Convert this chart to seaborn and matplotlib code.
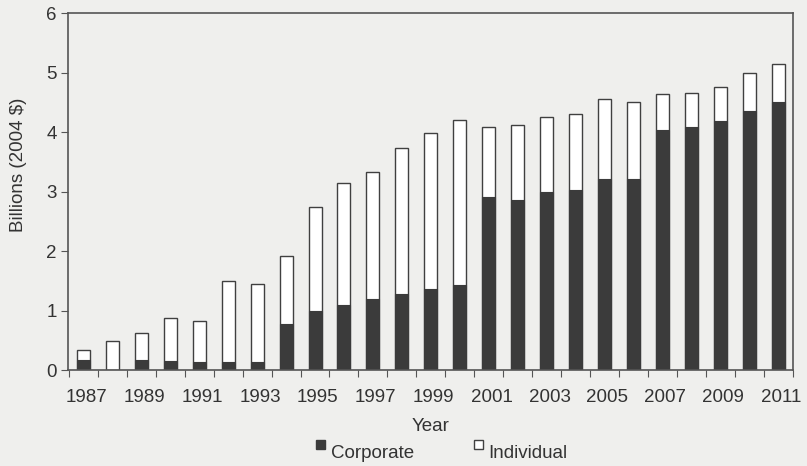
import numpy as np
import pandas as pd
import matplotlib
matplotlib.use("Agg")
import matplotlib.pyplot as plt
import seaborn as sns
from matplotlib.patches import Patch, Rectangle
from matplotlib.legend_handler import HandlerPatch

years = list(range(1987, 2012))
corporate = [0.17, 0.00, 0.16, 0.15, 0.14, 0.14, 0.14, 0.78, 1.00, 1.10, 1.19, 1.28, 1.36,
             1.43, 2.91, 2.85, 3.00, 3.02, 3.21, 3.21, 4.03, 4.08, 4.19, 4.35, 4.50]
total = [0.34, 0.48, 0.62, 0.87, 0.83, 1.49, 1.44, 1.91, 2.74, 3.15, 3.33, 3.74, 3.98,
         4.20, 4.09, 4.12, 4.25, 4.31, 4.56, 4.50, 4.64, 4.66, 4.76, 5.00, 5.14]
individual = [t - c for t, c in zip(total, corporate)]

df = pd.DataFrame({"Year": [str(y) for y in years], "Corporate": corporate,
                   "Individual": individual})
df["Total"] = df["Corporate"] + df["Individual"]

sns.set_style("ticks")
plt.rcParams['font.family'] = ['Liberation Sans', 'DejaVu Sans']

bg = "#efefed"
dark = "#3b3b3b"
edge = "#404040"
txt = "#333333"
fs = 13.5

fig = plt.figure(figsize=(8.07, 4.66), dpi=100, facecolor=bg)
ax = fig.add_axes([0.084, 0.206, 0.899, 0.766])
ax.set_facecolor(bg)

# stacked: draw totals (white) then corporate over them
sns.barplot(data=df, x="Year", y="Total", color="white", edgecolor=edge, linewidth=1.0,
            width=0.45, saturation=1, ax=ax)
sns.barplot(data=df, x="Year", y="Corporate", color=dark, edgecolor=dark, linewidth=0.8,
            width=0.45, saturation=1, ax=ax)

ax.set_ylim(0, 6)
ax.set_xlim(-0.54, 24.52)
ax.set_yticks(range(0, 7))
ax.set_yticklabels([str(i) for i in range(0, 7)], fontsize=fs, color=txt)

# ticks at category boundaries, labels every other year
ax.set_xticks(np.arange(-0.5, 25, 1.0), minor=False)
ax.set_xticklabels([])
ax.set_xticks(np.arange(0.1, 25, 2), minor=True)
ax.set_xticklabels([str(y) for y in years[::2]], minor=True, fontsize=fs, color=txt)
ax.tick_params(axis="x", which="minor", length=0, pad=14)
ax.tick_params(axis="x", which="major", length=5, color="#555555", direction="out")
ax.tick_params(axis="y", length=5, color="#555555", direction="out", pad=3)

for s in ax.spines.values():
    s.set_color("#555555")
    s.set_linewidth(1.2)

ax.set_xlabel("Year", fontsize=fs, color=txt, labelpad=8)
ax.set_ylabel("Billions (2004 $)", fontsize=fs, color=txt)
ax.yaxis.set_label_coords(-0.056, 0.575)


def raised_square(legend, orig_handle, xdescent, ydescent, width, height, fontsize):
    # small square sitting near the top of the text line
    s = 0.7 * height
    return Rectangle((width - s - xdescent, height - s * 0.45 - ydescent), s, s)


handles = [Patch(facecolor=dark, edgecolor=dark, label="Corporate"),
           Patch(facecolor="white", edgecolor=edge, label="Individual")]
fig.legend(handles=handles, loc="lower center", bbox_to_anchor=(0.545, -0.028), ncol=2,
           frameon=False, fontsize=fs, handlelength=0.7, handleheight=0.7,
           handletextpad=0.3, columnspacing=3.0, labelcolor=txt,
           handler_map={Patch: HandlerPatch(patch_func=raised_square)})

fig.savefig("out.png", dpi=100, facecolor=bg)
